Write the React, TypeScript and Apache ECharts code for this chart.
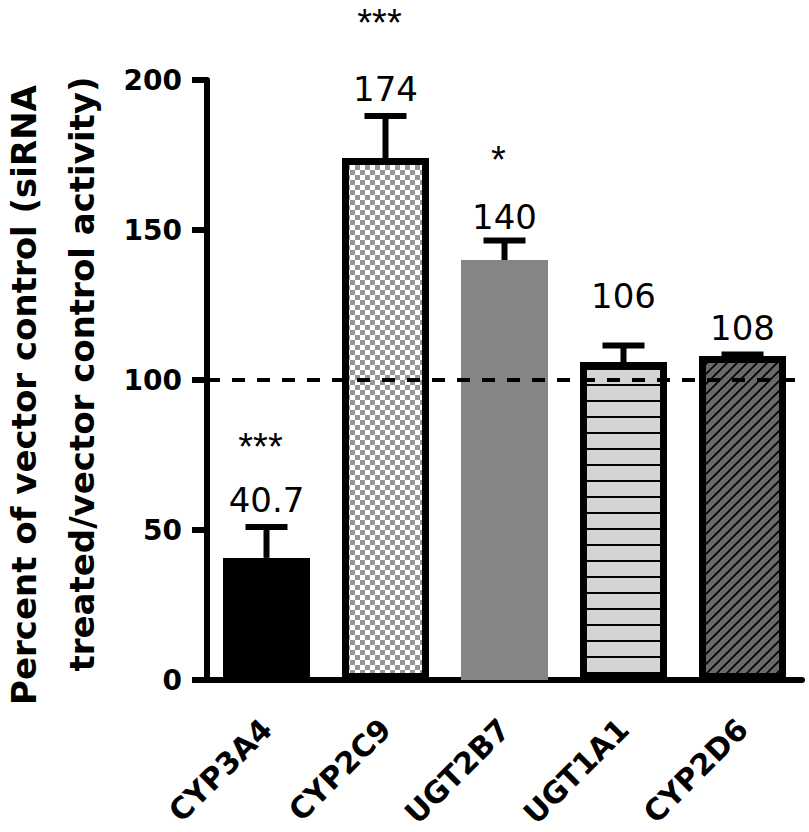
import React, { useEffect, useRef } from 'react';
import * as echarts from 'echarts';

// ---------- data ----------
const categories = ['CYP3A4', 'CYP2C9', 'UGT2B7', 'UGT1A1', 'CYP2D6'];
const means = [40.7, 174, 140, 106, 108];
const upperErrors = [10.3, 14, 6.5, 5.5, 0.5];
const valueLabels = ['40.7', '174', '140', '106', '108'];
const significance = ['***', '***', '*', '', ''];
const referenceLevel = 100;
const yMin = 0;
const yMax = 200;
const yInterval = 50;
const titleLine1 = 'Percent of vector control (siRNA';
const titleLine2 = 'treated/vector control activity)';

// ---------- layout (pixels) ----------
const VALUE_GAP = [27, 27, 24, 50, 27];
const SIG_GAP = [80, 93, 81, 0, 0];

function makeCanvas(w: number, h: number, draw: (ctx: CanvasRenderingContext2D) => void) {
  const c = document.createElement('canvas');
  c.width = w;
  c.height = h;
  const ctx = c.getContext('2d')!;
  draw(ctx);
  return c;
}

function patterns() {
  const checker = makeCanvas(10, 10, (ctx) => {
    ctx.fillStyle = '#ffffff';
    ctx.fillRect(0, 0, 10, 10);
    ctx.fillStyle = '#969696';
    ctx.fillRect(0, 0, 5, 5);
    ctx.fillRect(5, 5, 5, 5);
  });
  const hlines = makeCanvas(16, 16, (ctx) => {
    ctx.fillStyle = '#d4d4d4';
    ctx.fillRect(0, 0, 16, 16);
    ctx.fillStyle = '#000000';
    ctx.fillRect(0, 0, 16, 2);
  });
  const diag = makeCanvas(10, 10, (ctx) => {
    ctx.fillStyle = '#696969';
    ctx.fillRect(0, 0, 10, 10);
    ctx.strokeStyle = '#000000';
    ctx.lineWidth = 1.6;
    ctx.beginPath();
    ctx.moveTo(-1, 11);
    ctx.lineTo(11, -1);
    ctx.moveTo(-6, 6);
    ctx.lineTo(6, -6);
    ctx.moveTo(4, 16);
    ctx.lineTo(16, 4);
    ctx.stroke();
  });
  return {
    checker: { image: checker, repeat: 'repeat', imageWidth: 10, imageHeight: 10 },
    hlines: { image: hlines, repeat: 'repeat', imageWidth: 16, imageHeight: 16 },
    diag: { image: diag, repeat: 'repeat', imageWidth: 10, imageHeight: 10 },
  };
}

export default function App() {
  const ref = useRef<HTMLDivElement>(null);

  useEffect(() => {
    if (!ref.current) return;
    const chart = echarts.init(ref.current, null, { renderer: 'svg' });
    const p = patterns();
    const barStyles: any[] = [
      { color: '#000000', borderColor: '#000000', borderWidth: 7 },
      { color: p.checker, borderColor: '#000000', borderWidth: 7 },
      { color: '#858585', borderColor: '#858585', borderWidth: 7 },
      { color: p.hlines, borderColor: '#000000', borderWidth: 7 },
      { color: p.diag, borderColor: '#000000', borderWidth: 7 },
    ];

    const option: any = {
      animation: false,
      backgroundColor: '#ffffff',
      grid: { left: 207, right: 7, top: 80, bottom: 152, containLabel: false },
      xAxis: {
        type: 'category',
        data: categories,
        axisLine: { lineStyle: { color: '#000', width: 6 } },
        axisTick: { alignWithLabel: true, length: 15, lineStyle: { color: '#000', width: 6 } },
        axisLabel: {
          rotate: 45,
          margin: 44,
          color: '#000',
          fontFamily: '"DejaVu Sans"',
          fontWeight: 'bold',
          fontSize: 30,
        },
      },
      yAxis: {
        type: 'value',
        min: yMin,
        max: yMax,
        interval: yInterval,
        splitLine: { show: false },
        axisLine: { show: true, lineStyle: { color: '#000', width: 6 } },
        axisTick: { show: true, length: 15, lineStyle: { color: '#000', width: 6 } },
        axisLabel: {
          margin: 25,
          color: '#000',
          fontFamily: '"DejaVu Sans"',
          fontWeight: 'bold',
          fontSize: 28,
        },
      },
      graphic: [
        {
          type: 'text',
          x: 24,
          y: 395,
          rotation: Math.PI / 2,
          style: {
            text: titleLine1,
            font: 'bold 34px "DejaVu Sans"',
            fill: '#000',
            align: 'center',
            verticalAlign: 'middle',
          },
        },
        {
          type: 'text',
          x: 82,
          y: 374,
          rotation: Math.PI / 2,
          style: {
            text: titleLine2,
            font: 'bold 34px "DejaVu Sans"',
            fill: '#000',
            align: 'center',
            verticalAlign: 'middle',
          },
        },
      ],
      series: [
        {
          type: 'bar',
          barWidth: 87,
          data: means.map((v, i) => ({ value: v, itemStyle: barStyles[i] })),
          z: 2,
          markLine: {
            silent: true,
            symbol: 'none',
            label: { show: false },
            lineStyle: { color: '#000', width: 4, type: [13, 12] },
            data: [{ yAxis: referenceLevel }],
            z: 5,
          },
        },
        {
          type: 'custom',
          z: 4,
          data: means.map((m, i) => [i, m, upperErrors[i]]),
          encode: { x: 0, y: 1 },
          renderItem: (params: any, api: any) => {
            const i = api.value(0);
            const m = api.value(1);
            const e = api.value(2);
            const base = api.coord([i, m]);
            const top = api.coord([i, m + e]);
            const children: any[] = [
              {
                type: 'line',
                shape: { x1: top[0], y1: base[1], x2: top[0], y2: top[1] },
                style: { stroke: '#000', lineWidth: 6 },
              },
              {
                type: 'line',
                shape: { x1: top[0] - 21, y1: top[1], x2: top[0] + 21, y2: top[1] },
                style: { stroke: '#000', lineWidth: 6 },
              },
              {
                type: 'text',
                style: {
                  text: valueLabels[i],
                  x: top[0],
                  y: top[1] - VALUE_GAP[i],
                  align: 'center',
                  verticalAlign: 'middle',
                  font: '34px "DejaVu Sans"',
                  fill: '#000',
                },
              },
            ];
            if (significance[i]) {
              children.push({
                type: 'text',
                style: {
                  text: significance[i],
                  x: top[0] - 6,
                  y: top[1] - SIG_GAP[i],
                  align: 'center',
                  verticalAlign: 'middle',
                  font: '38px "Liberation Sans"',
                  fill: '#000',
                },
              });
            }
            return { type: 'group', children };
          },
        },
      ],
    };
    chart.setOption(option);
    return () => chart.dispose();
  }, []);

  return (
    <div
      ref={ref}
      style={{ position: 'fixed', left: 0, top: 0, width: 809, height: 832, background: '#fff' }}
    />
  );
}
